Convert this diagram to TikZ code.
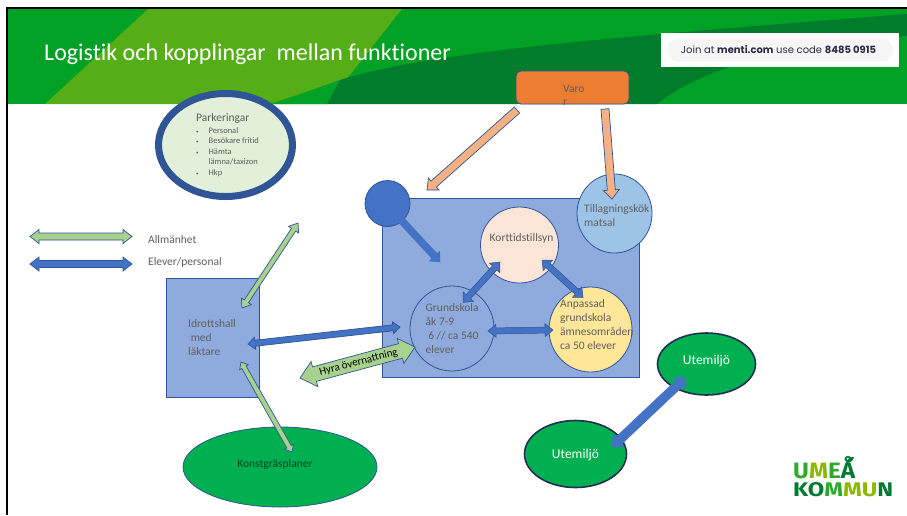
\documentclass[tikz,border=0pt]{standalone}
\usepackage{fontspec}
\usepackage{graphicx}
\setmainfont{Carlito}[Ligatures=NoCommon]
\newfontfamily\mentifont{Poppins}
\newfontfamily\logofont{Fira Sans}
\usetikzlibrary{calc,shapes.geometric}
\definecolor{bandlight}{HTML}{55AE17}
\definecolor{bandmid}{HTML}{00A124}
\definecolor{banddark}{HTML}{007C2B}
\definecolor{edgeblue}{HTML}{2F5597}
\definecolor{boxblue}{HTML}{8FAADC}
\definecolor{solidblue}{HTML}{4472C4}
\definecolor{skyblue}{HTML}{9DC3E6}
\definecolor{peach}{HTML}{FBE5D6}
\definecolor{butter}{HTML}{FFE699}
\definecolor{grassgreen}{HTML}{00B050}
\definecolor{softgreen}{HTML}{A9D18E}
\definecolor{palegreen}{HTML}{E2EFD9}
\definecolor{tan}{HTML}{F4B183}
\definecolor{orangebox}{HTML}{ED7D31}
\definecolor{labelgrey}{HTML}{5F5F5F}
\definecolor{navyedge}{HTML}{1F2F55}
\definecolor{mentiink}{HTML}{2F2A45}
\definecolor{logodark}{HTML}{007A33}
\definecolor{logomid}{HTML}{2FA82E}
\definecolor{logolime}{HTML}{8DB800}
\newcommand{\singlearrow}[6][]{%
  \coordinate (bs) at #2; \coordinate (be) at #3;
  \coordinate (bh) at ($(be)!#6pt!(bs)$);
  \draw[#1] ($(bs)!#4pt!90:(be)$) -- ($(bh)!#4pt!90:(be)$) -- ($(bh)!#5pt!90:(be)$) -- (be)
    -- ($(bh)!#5pt!-90:(be)$) -- ($(bh)!#4pt!-90:(be)$) -- ($(bs)!#4pt!-90:(be)$) -- cycle;}
\newcommand{\doublearrow}[6][]{%
  \coordinate (bs) at #2; \coordinate (be) at #3;
  \coordinate (bh) at ($(be)!#6pt!(bs)$);
  \coordinate (bt) at ($(bs)!#6pt!(be)$);
  \draw[#1] (bs) -- ($(bt)!#5pt!90:(be)$) -- ($(bt)!#4pt!90:(be)$) -- ($(bh)!#4pt!90:(be)$) -- ($(bh)!#5pt!90:(be)$) -- (be)
    -- ($(bh)!#5pt!-90:(be)$) -- ($(bh)!#4pt!-90:(be)$) -- ($(bt)!#4pt!-90:(be)$) -- ($(bt)!#5pt!-90:(be)$) -- cycle;}
\tikzset{
  lbl/.style={text=labelgrey,font=\fontsize{11.5}{14}\selectfont,align=left,inner sep=0pt},
  disc/.style={ellipse,draw=edgeblue,line width=0.8pt,inner sep=0pt},
  bluearrow/.style={fill=solidblue,draw=edgeblue,line width=0.7pt,line join=miter},
  flatblue/.style={fill=solidblue,draw=solidblue,line width=0.5pt},
  greenarrow/.style={fill=softgreen,draw=edgeblue,line width=0.7pt},
  tanarrow/.style={fill=tan,draw=edgeblue,line width=0.7pt},
}
\begin{document}
\begin{tikzpicture}[x=1pt,y=-1pt]
\useasboundingbox (0,0) rectangle (907,515);
\fill[white] (0,0) rectangle (907,515);
% banner
\fill[bandmid] (8,9) rectangle (907,104);
\fill[bandlight] (148,9) -- (402,9) -- (327,104) -- (270,104) -- (45,104) -- cycle;
\fill[bandmid] (270,104) .. controls (295,96) and (320,87) .. (340,80) -- (327,104) -- cycle;
\fill[banddark] (327,104) -- (340,80) .. controls (430,52) and (600,38) .. (907,14)
  -- (907,36) .. controls (800,45) and (710,62) .. (657,104) -- cycle;
% frame
\fill[black] (6,7) rectangle (907,9);
\fill[black] (6,7) rectangle (8,515);
\node[font=\fontsize{24}{28}\selectfont,text=white,anchor=west,inner sep=0pt] (title) at (44,54) {Logistik och kopplingar\ \ mellan funktioner};
% menti
\node[fill=white,minimum width=238pt,minimum height=34pt,inner sep=0pt] (mentibox) at (780,50) {};
\node[fill=black!4,rounded corners=11pt,minimum width=226pt,minimum height=23pt,inner sep=0pt] (mentipill) at (mentibox) {};
\node[font=\mentifont\fontsize{10}{12}\selectfont,text=mentiink,inner sep=0pt] (mentitext) at (778.5,50) {Join at \textbf{menti.com} use code \textbf{8485 0915}};
% shapes
\node[draw=edgeblue,fill=orangebox,rounded corners=5pt,line width=0.8pt,minimum width=113pt,minimum height=33pt,inner sep=0pt] (varor) at (572.5,87.5) {};
\node[lbl,anchor=west] (varot) at (563,89) {Varo};
\node[lbl,anchor=west] (varor2) at (563,103) {r};
\node[ellipse,draw=edgeblue,line width=7pt,fill=palegreen,minimum width=134pt,minimum height=103pt,inner sep=0pt] (park) at (225.5,145) {};
\node[lbl,anchor=north west] (parkt) at (196,113.5) {\setlength{\tabcolsep}{0pt}\fontsize{8.5}{10.4}\selectfont
  \begin{tabular}{@{}p{12.5pt}l@{}}
  \multicolumn{2}{@{}l}{\fontsize{11.5}{12}\selectfont Parkeringar}\\[1.5pt]
  {\tiny\textbullet} & Personal\\
  {\tiny\textbullet} & Besökare fritid\\
  {\tiny\textbullet} & Hämta\\
  & lämna/taxizon\\
  {\tiny\textbullet} & Hkp
  \end{tabular}};
\node[draw=edgeblue,fill=boxblue,line width=0.8pt,minimum width=257pt,minimum height=179pt,inner sep=0pt] (school) at (510.5,287.5) {};
\node[disc,fill=solidblue,minimum width=45pt,minimum height=46pt] (dot) at (387.5,203.5) {};
\node[disc,fill=peach,minimum width=78pt,minimum height=76pt] (kort) at (519.5,245) {};
\node[lbl,anchor=west] (kortt) at (489.5,238.5) {Korttidstillsyn};
\node[disc,fill=skyblue,minimum width=75pt,minimum height=79pt] (tillag) at (614.5,213.5) {};
\node[lbl,anchor=north west] (tillagt) at (584,204) {Tillagningskök\\matsal};
\node[disc,fill=boxblue,minimum width=84pt,minimum height=85pt] (grund) at (452,328.5) {};
\node[lbl,anchor=north west] (grundt) at (425.5,303) {Grundskola\\åk 7-9\\\ 6 // ca 540\\elever};
\node[disc,fill=butter,minimum width=83pt,minimum height=85pt] (anp) at (590.5,329.5) {};
\node[lbl,anchor=north west] (anpt) at (560,299) {Anpassad\\grundskola\\ämnesområden\\ca 50 elever};
\node[draw=edgeblue,fill=boxblue,line width=0.8pt,minimum width=93pt,minimum height=119pt,inner sep=0pt] (idrott) at (212.5,337.5) {};
\node[lbl,anchor=north west] (idrottt) at (188,319.5) {Idrottshall\\\ med\\läktare};
\node[disc,fill=grassgreen,minimum width=194pt,minimum height=80pt] (konst) at (280,467) {};
\node[lbl,anchor=center,text=black!60!grassgreen] (konstt) at (275,464.5) {Konstgräsplaner};
\node[disc,fill=grassgreen,draw=navyedge,line width=1.6pt,minimum width=98pt,minimum height=62pt] (ute1) at (706.5,364) {};
\node[lbl,text=white,font=\fontsize{13.5}{16}\selectfont] (ute1t) at (706.5,361) {Utemiljö};
\node[disc,fill=grassgreen,draw=navyedge,line width=1.6pt,minimum width=102pt,minimum height=67pt] (ute2) at (575.5,454) {};
\node[lbl,text=white,font=\fontsize{13.5}{16}\selectfont] (ute2t) at (575.5,455) {Utemiljö};
% free ends
\coordinate (legAl) at (30,236.5); \coordinate (legAr) at (132,236.5);
\coordinate (legBl) at (30,264); \coordinate (legBr) at (132,264);
\coordinate (dropA) at (517,110); \coordinate (arrivalA) at (427,190);
\coordinate (dropB) at (605,109);
\coordinate (parkEnd) at (298,223);
\coordinate (hyraL) at (300,378);
\coordinate (dotEnd) at (440,262);
% connectors
\doublearrow[greenarrow]{(legAl)}{(legAr)}{3.5}{7}{9}
\doublearrow[bluearrow]{(legBl)}{(legBr)}{3.5}{7}{9}
\node[lbl,anchor=west] (legAt) at (148,239.5) {Allmänhet};
\node[lbl,anchor=west] (legBt) at (148,262) {Elever/personal};
\singlearrow[tanarrow]{(dropA)}{(arrivalA)}{4}{8}{9}
\singlearrow[tanarrow]{(dropB)}{($(tillag)+(-2.5,-14.5)$)}{4}{8}{9}
\singlearrow[flatblue]{($(dot)+(14,17)$)}{(dotEnd)}{3.5}{7}{8}
\doublearrow[flatblue,draw=edgeblue]{($(grund)+(11,-26)$)}{($(kort)+(-19.5,17)$)}{3}{7}{8}
\doublearrow[flatblue,draw=edgeblue]{($(anp)+(-7.5,-32)$)}{($(kort)+(22.5,15)$)}{3}{7}{8}
\doublearrow[flatblue,draw=edgeblue]{($(grund)+(36,2.5)$)}{($(anp)+(-37.5,0.5)$)}{3}{6.5}{8}
\doublearrow[greenarrow]{($(idrott)+(29.5,-29.5)$)}{(parkEnd)}{2.5}{6}{8}
\doublearrow[greenarrow]{($(idrott)+(28.5,24.5)$)}{($(konst)+(12,-15)$)}{2.5}{5}{6}
\doublearrow[bluearrow]{($(idrott)+(35.5,6.5)$)}{($(grund)+(-52,-1.5)$)}{3}{6}{7}
\doublearrow[greenarrow]{(hyraL)}{($(grund)+(-37,18.5)$)}{7.5}{13}{15}
\node[font=\fontsize{11}{13}\selectfont,text=black,rotate=15,inner sep=0pt] (hyra) at (358.5,362.5) {Hyra övernattning};
\doublearrow[flatblue]{($(ute2)+(36.5,-7)$)}{($(ute1)+(-20.5,13)$)}{4.5}{8}{9}
% logo
\node[anchor=south west,inner sep=0pt] (logoA) at (793,479) {\resizebox{62pt}{22pt}{\logofont\bfseries\textcolor{logomid}{U}\textcolor{logolime}{M}\textcolor{logomid}{E}\textcolor{logodark}{Å}}};
\node[anchor=south west,inner sep=0pt] (logoB) at (793,497.5) {\resizebox{100pt}{14pt}{\logofont\bfseries\textcolor{logodark}{KO}\textcolor{logomid}{M}\textcolor{logolime}{MU}\textcolor{logodark}{N}}};
\fill[logodark] (846,463) .. controls (847,458) and (851,457) .. (854,457) .. controls (853,461) and (850,463) .. (846,463) -- cycle;
\end{tikzpicture}
\end{document}
